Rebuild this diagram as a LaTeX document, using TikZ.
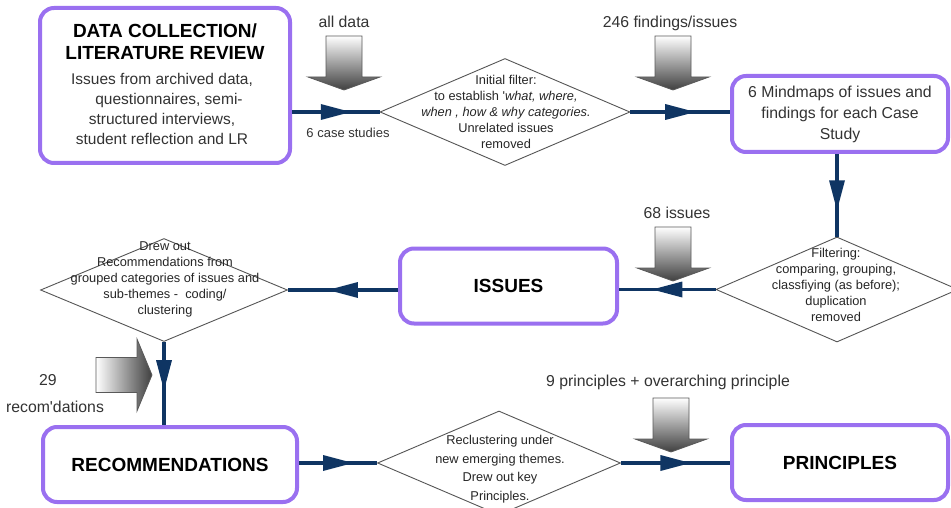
\documentclass[tikz,border=0pt]{standalone}
\usepackage{fontspec}
\setmainfont{Liberation Sans}
\usetikzlibrary{shapes.geometric,decorations.markings}

\definecolor{boxpurple}{HTML}{9A70F0}
\definecolor{flownavy}{HTML}{0F3563}
\definecolor{edgegray}{HTML}{555555}

\tikzset{
  stagebox/.style={draw=boxpurple, line width=4pt, rounded corners=14pt, fill=white,
    align=center, inner sep=0pt},
  decision/.style={draw=edgegray, line width=0.9pt, shape=diamond, inner sep=0pt},
  flow/.style={draw=flownavy, line width=3.2pt, postaction={decorate},
    decoration={markings, mark=at position #1 with
      {\fill[flownavy] (-15pt,-8pt) -- (15pt,0pt) -- (-15pt,8pt) -- cycle;}}},
  flow/.default=0.5,
  notetext/.style={font=\fontsize{15.8}{19}\selectfont, text=black!80, inner sep=0pt},
  headtext/.style={font=\fontsize{19}{22}\selectfont\bfseries, text=black, align=center, inner sep=0pt},
  bodytext/.style={font=\fontsize{15.5}{20}\selectfont, text=black!80, align=center, inner sep=0pt},
  choicetext/.style={font=\fontsize{12.8}{16}\selectfont, text=black!85, align=center, inner sep=0pt},
  blockarrow/.style={draw=black!65, line width=0.8pt},
  downblock/.pic={\path[blockarrow, top color=white, bottom color=black!75]
    (-18,0) -- (18,0) -- (18,41) -- (36,41) -- (0,54) -- (-36,41) -- (-18,41) -- cycle;},
  rightblock/.pic={\path[blockarrow, left color=white, right color=black!75]
    (0,-17.5) -- (41,-17.5) -- (41,-36) -- (56,0) -- (41,36) -- (41,17.5) -- (0,17.5) -- cycle;}
}

\begin{document}
\begin{tikzpicture}[x=1pt,y=-1pt]
\path[use as bounding box, fill=white] (0,0) rectangle (951,508);

% stages
\node[stagebox, minimum width=250pt, minimum height=155pt] (data) at (165,85.5) {};
\node[headtext] (datahead) at (165,42) {DATA COLLECTION/\\LITERATURE REVIEW};
\node[bodytext] (databody) at (162,109) {Issues from archived data,\\\hspace*{14pt}questionnaires, semi-\\structured interviews,\\student reflection and LR};

\node[stagebox, minimum width=216pt, minimum height=76pt,
  font=\fontsize{15.8}{21}\selectfont, text=black!80] (mind) at (840,114)
  {6 Mindmaps of issues and\\findings for each Case\\Study};

\node[stagebox, minimum width=217pt, minimum height=75pt,
  font=\fontsize{19}{22}\selectfont\bfseries] (issues) at (508.5,286) {ISSUES};
\node[stagebox, minimum width=254pt, minimum height=75pt,
  font=\fontsize{19}{22}\selectfont\bfseries] (recs) at (170,464.5) {RECOMMENDATIONS};
\node[stagebox, minimum width=216pt, minimum height=75pt,
  font=\fontsize{19}{22}\selectfont\bfseries] (princ) at (840,462.5) {PRINCIPLES};

% decisions
\node[decision, minimum width=250pt, minimum height=107pt] (filt1) at (505,112) {};
\node[decision, minimum width=242pt, minimum height=105pt] (filt2) at (837,289.5) {};
\node[decision, minimum width=247pt, minimum height=103pt] (drew) at (164,290) {};
\node[decision, minimum width=243pt, minimum height=104pt] (recl) at (499,463) {};

\node[choicetext] (filt1txt) at (506,112) {Initial filter:\\to establish \textquotesingle\textit{what, where,}\\\textit{when , how \& why categories.}\\Unrelated issues\\removed};
\node[choicetext] (filt2txt) at (836,285) {Filtering:\\comparing, grouping,\\classfiying (as before);\\duplication\\removed};
\node[choicetext] (drewtxt) at (165,279) {Drew out\\Recommendations from\\grouped categories of issues and\\sub-themes -\ \ coding/\\clustering};
\node[choicetext, font=\fontsize{12.8}{18.6}\selectfont] (recltxt) at (500,469) {Reclustering under\\new emerging themes.\\Drew out key\\Principles.};

% flow connectors
\draw[flow] (filt1.west -| data.east) -- (filt1.west);
\draw[flow] (filt1.east) -- (filt1.east -| mind.west);
\draw[flow] (filt2.north |- mind.south) -- (filt2.north);
\draw[flow] (filt2.west) -- (filt2.west -| issues.east);
\draw[flow] (drew.east -| issues.west) -- (drew.east);
\draw[flow=0.4] (drew.south) -- (drew.south |- recs.north);
\draw[flow] (recl.west -| recs.east) -- (recl.west);
\draw[flow] (recl.east) -- (recl.east -| princ.west);

% quantity inputs
\pic at (344,36) {downblock};
\pic at (673,36) {downblock};
\pic at (673,227) {downblock};
\pic at (671,398) {downblock};
\pic at (96,375) {rightblock};

\node[notetext] (alldata) at (344,22) {all data};
\node[notetext] (found) at (670,23) {246 findings/issues};
\node[notetext, font=\fontsize{13}{16}\selectfont] (cases) at (348,133) {6 case studies};
\node[notetext] (sixtyeight) at (677,213) {68 issues};
\node[notetext] (twentynine) at (48,380) {29};
\node[notetext] (recomd) at (55,407) {recom\textquotesingle dations};
\node[notetext] (ninep) at (668,382) {9 principles + overarching principle};
\end{tikzpicture}
\end{document}
